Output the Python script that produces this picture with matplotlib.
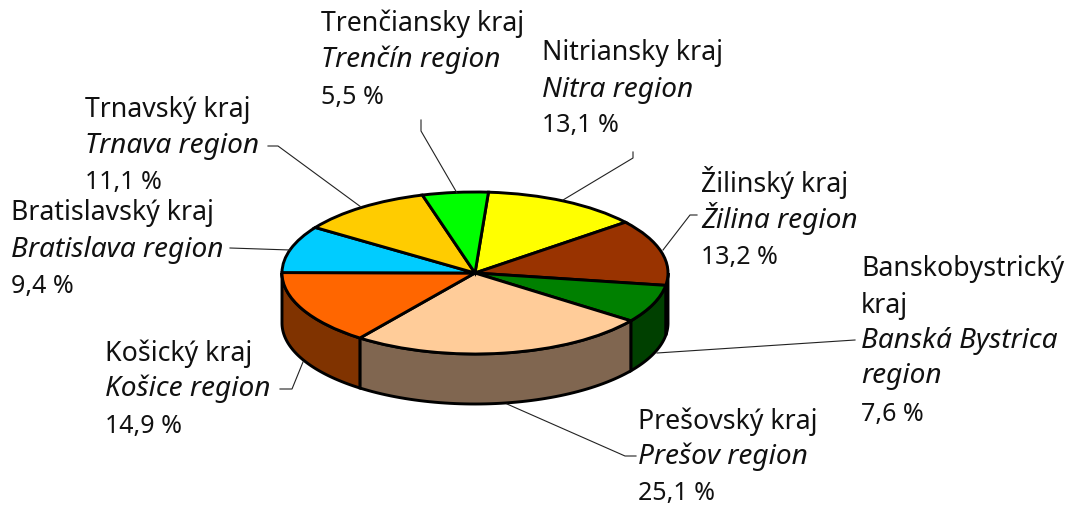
import numpy as np
import matplotlib
matplotlib.use("Agg")
import matplotlib.pyplot as plt
from matplotlib.lines import Line2D
from matplotlib.patches import Polygon

W = 1071
H = 507

shares = [13.1, 13.2, 7.6, 25.1, 14.9, 9.4, 11.1, 5.5]
top_colors = ["#ffff00", "#993300", "#008000", "#ffcc99", "#ff6600", "#00ccff", "#ffcc00", "#00ff00"]
side_colors = ["#808000", "#4d1a00", "#004000", "#806650", "#803300", "#006680", "#806600", "#008000"]
share_labels = ["13,1 %", "13,2 %", "7,6 %", "25,1 %", "14,9 %", "9,4 %", "11,1 %", "5,5 %"]

plt.rcParams["font.family"] = ["Noto Sans", "DejaVu Sans"]

# pie geometry in pixels
cx, cy = 475, 273
rx, ry = 193, 81
depth = 50

fig = plt.figure(figsize=(W / 100, H / 100), dpi=100)
ax = fig.add_axes([0, 0, 1, 1])

wedges, _ = ax.pie(shares, colors=top_colors, startangle=86, counterclock=False,
                   wedgeprops={"edgecolor": "black", "linewidth": 2.1, "zorder": 3})
ax.set_aspect("auto")
ax.set_xlim(-cx / rx, (W - cx) / rx)
ax.set_ylim(-(H - cy) / ry, cy / ry)

# side wall for the part of each slice facing the viewer
for w, c in zip(wedges, side_colors):
    for shift in (0, -360, 360):
        lo = max(w.theta1 + shift, -180)
        hi = min(w.theta2 + shift, 0)
        if hi - lo < 0.5:
            continue
        t = np.radians(np.linspace(lo, hi, 60))
        xs = np.cos(t)
        ys = np.sin(t)
        d = depth / ry
        pts = np.column_stack([np.r_[xs, xs[::-1]], np.r_[ys, ys[::-1] - d]])
        ax.add_patch(Polygon(pts, closed=True, facecolor=c, edgecolor="black",
                             linewidth=2.1, zorder=2))


def px_line(points):
    xs = [p[0] / W for p in points]
    ys = [1 - p[1] / H for p in points]
    fig.add_artist(Line2D(xs, ys, color="#222222", lw=0.8, transform=fig.transFigure, zorder=1))


def label(x, y, lines):
    # lines: (text, kind, baseline y offset)
    sizes = {"name": 19.2, "en": 20.2, "pct": 18.0}
    for text, kind, dy in lines:
        fig.text(x / W, 1 - (y + dy) / H, text, fontsize=sizes[kind], color="#111111",
                 fontweight="light" if kind != "en" else "normal",
                 style="italic" if kind == "en" else "normal", va="baseline", ha="left")


label(321, 31, [("Trenčiansky kraj", "name", 0), ("Trenčín region", "en", 36), (share_labels[7], "pct", 73)])
label(542, 60, [("Nitriansky kraj", "name", 0), ("Nitra region", "en", 37), (share_labels[0], "pct", 72)])
label(701, 192, [("Žilinský kraj", "name", 0), ("Žilina region", "en", 36), (share_labels[1], "pct", 72)])
label(861, 276, [("Banskobystrický", "name", 0), ("kraj", "name", 37), ("Banská Bystrica", "en", 72),
                 ("region", "en", 107), (share_labels[2], "pct", 145)])
label(638, 429, [("Prešovský kraj", "name", 0), ("Prešov region", "en", 35), (share_labels[3], "pct", 71)])
label(105, 361, [("Košický kraj", "name", 0), ("Košice region", "en", 35), (share_labels[4], "pct", 72)])
label(11, 220, [("Bratislavský kraj", "name", 0), ("Bratislava region", "en", 37), (share_labels[5], "pct", 73)])
label(85, 117, [("Trnavský kraj", "name", 0), ("Trnava region", "en", 36), (share_labels[6], "pct", 72)])

px_line([(268, 146), (278, 146), (361, 207)])
px_line([(230, 248), (290, 250)])
px_line([(421, 120), (421, 131), (457, 193)])
px_line([(633, 152), (633, 158), (563, 200)])
px_line([(697, 215), (690, 215), (663, 250)])
px_line([(855, 340), (657, 353)])
px_line([(636, 456), (625, 456), (507, 404)])
px_line([(280, 389), (292, 389), (303, 362)])

fig.savefig("out.png", dpi=100)
